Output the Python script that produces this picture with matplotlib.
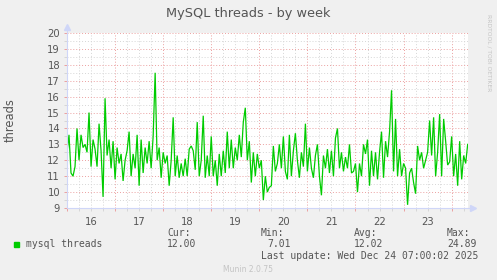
import matplotlib
matplotlib.use("Agg")
import matplotlib.pyplot as plt
from matplotlib.ticker import MultipleLocator
from matplotlib.lines import Line2D
import numpy as np

# ---- data (hourly values, starting Dec 16 00:00) ----
start_day = 16.0
day16 = [12.5, 13.6, 11.2, 11.0, 11.6, 14.0, 12.0, 13.6, 12.8, 13.0, 12.5, 15.0,
         11.6, 13.3, 12.7, 11.6, 14.3, 12.6, 9.7, 15.9, 12.3, 13.3, 11.5, 13.2]
day17 = [10.8, 12.8, 11.8, 12.4, 10.7, 12.0, 12.6, 13.8, 11.0, 12.4, 11.5, 13.6,
         10.4, 13.3, 11.2, 12.8, 11.8, 13.2, 11.5, 13.5, 17.5, 12.0, 12.8, 10.9]
day18 = [12.5, 11.8, 12.3, 10.4, 12.0, 14.7, 11.0, 12.3, 10.9, 11.8, 11.0, 12.1,
         11.0, 12.7, 12.9, 12.6, 11.4, 14.4, 11.0, 12.0, 14.8, 10.9, 12.3, 11.0]
day19 = [13.5, 11.0, 12.0, 10.4, 12.4, 11.0, 12.6, 11.2, 13.8, 11.5, 13.3, 11.5,
         12.8, 12.0, 13.6, 12.2, 14.4, 15.3, 12.0, 13.2, 10.6, 12.5, 11.0, 12.4]
day20 = [11.5, 12.0, 9.5, 11.0, 10.0, 10.3, 10.4, 12.9, 11.3, 11.8, 13.0, 11.5,
         13.5, 11.3, 10.8, 13.6, 11.0, 12.6, 13.7, 12.0, 10.9, 12.5, 11.6, 14.3]
day21 = [11.3, 12.8, 11.5, 10.9, 12.3, 13.0, 11.0, 9.8, 12.3, 11.5, 12.7, 11.2,
         12.6, 11.0, 13.4, 14.0, 11.5, 12.5, 11.3, 12.2, 11.5, 13.0, 11.2, 11.3]
day22 = [11.8, 10.0, 11.8, 11.0, 13.0, 12.4, 13.3, 10.4, 12.6, 11.0, 12.5, 10.8,
         12.5, 13.8, 10.9, 13.2, 12.2, 13.8, 16.4, 11.3, 14.6, 11.0, 12.7, 11.0]
day23 = [11.8, 11.5, 9.2, 11.2, 11.5, 10.6, 9.9, 12.9, 12.0, 12.5, 11.5, 12.0,
         12.5, 14.5, 12.3, 14.7, 11.0, 12.5, 14.9, 11.0, 14.6, 13.2, 11.7, 11.9]
day24 = [13.5, 11.0, 12.4, 10.4, 13.2, 10.8, 12.3, 11.8, 13.0]

values = day16 + day17 + day18 + day19 + day20 + day21 + day22 + day23 + day24
day_labels = ["16", "17", "18", "19", "20", "21", "22", "23"]
stats_names = ["Cur:", "Min:", "Avg:", "Max:"]
stats_vals = ["12.00", "7.01", "12.02", "24.89"]
series_name = "mysql threads"

W, H = 497, 280
fig = plt.figure(figsize=(W / 100, H / 100), dpi=100, facecolor="#f0f0f0")
ax = fig.add_axes([67 / W, 1 - 208 / H, (468 - 67) / W, (208 - 33) / H])
ax.set_facecolor("white")

t = start_day + np.arange(len(values)) / 24.0
ax.plot(t, values, color="#00cc00", lw=0.9, solid_joinstyle="miter")

ax.set_xlim(16.0, 24.34)
ax.set_ylim(9, 20)

major_col = "#eba0a0"
minor_col = "#d6d6d6"
ax.xaxis.set_major_locator(MultipleLocator(1))
ax.xaxis.set_minor_locator(MultipleLocator(0.25))
ax.yaxis.set_major_locator(MultipleLocator(1))
ax.yaxis.set_minor_locator(MultipleLocator(0.5))
ax.grid(which="minor", color=minor_col, ls=(0, (1, 2)), lw=0.7)
ax.grid(which="major", color=major_col, ls=(0, (1, 2)), lw=0.7)
ax.set_axisbelow(True)
ax.tick_params(axis="x", which="both", labelbottom=False)
ax.tick_params(which="major", length=2, color=major_col, width=0.7)
ax.tick_params(which="minor", length=2, color=minor_col, width=0.7)
ax.tick_params(axis="y", which="major", labelsize=7.2, labelcolor="#555555", pad=3)

for i, lab in enumerate(day_labels):
    ax.text(start_day + i + 0.5, -0.05, lab, transform=ax.get_xaxis_transform(),
            ha="center", va="top", fontsize=7.2, color="#555555")

for s in ["top", "right"]:
    ax.spines[s].set_visible(False)
axis_col = "#cfd6f8"
for s in ["left", "bottom"]:
    ax.spines[s].set_color(axis_col)
    ax.spines[s].set_linewidth(0.8)
# axis extensions and arrows
ax.add_line(Line2D([0, 0], [1, 1.035], transform=ax.transAxes, color=axis_col, lw=0.8, clip_on=False))
ax.add_line(Line2D([1, 1.012], [0, 0], transform=ax.transAxes, color=axis_col, lw=0.8, clip_on=False))
ax.plot([0], [1.035], marker="^", ms=4, color=axis_col, transform=ax.transAxes, clip_on=False)
ax.plot([1.012], [0], marker=">", ms=4, color=axis_col, transform=ax.transAxes, clip_on=False)

# titles
fig.text(248 / W, 1 - 13 / H, "MySQL threads - by week", ha="center", va="center",
         fontsize=9.3, color="#555555")
fig.text(10 / W, 1 - 120 / H, "threads", rotation=90, ha="center", va="center",
         fontsize=8.3, color="#555555")
fig.text(489 / W, 1 - 14 / H, "RRDTOOL / TOBI OETIKER", rotation=270, ha="center", va="top",
         fontsize=4.3, color="#c4c4c4")

# legend
mono = "DejaVu Sans Mono"
fig.patches.append(plt.Rectangle((14 / W, 1 - 247 / H), 5 / W, 5 / H, transform=fig.transFigure,
                                 color="#00cc00", figure=fig))
fig.text(26 / W, 1 - 244 / H, series_name, family=mono, fontsize=7, color="#555555",
         ha="left", va="center")
xs_names = [167, 261, 354, 447]
xs_vals = [167, 267, 354, 447]
for n, v, xn, xv in zip(stats_names, stats_vals, xs_names, xs_vals):
    fig.text(xn / W, 1 - 233 / H, n, family=mono, fontsize=7, color="#555555", ha="left", va="center")
    fig.text(xv / W, 1 - 244 / H, v, family=mono, fontsize=7, color="#555555", ha="left", va="center")
fig.text(261 / W, 1 - 256 / H, "Last update: Wed Dec 24 07:00:02 2025", family=mono, fontsize=7,
         color="#555555", ha="left", va="center")
fig.text(248 / W, 1 - 269 / H, "Munin 2.0.75", fontsize=5.5, color="#c4c4c4", ha="center", va="center")

fig.savefig("out.png", dpi=100, facecolor=fig.get_facecolor())
